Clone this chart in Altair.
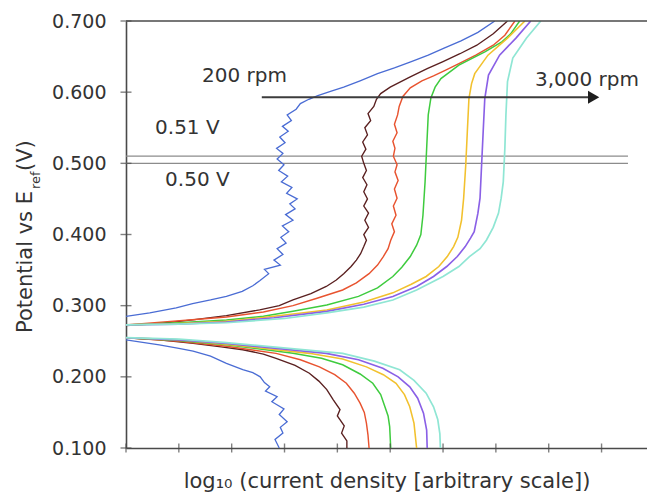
import altair as alt
import pandas as pd

FONT = "DejaVu Sans"
INK = "#333333"
AXIS_INK = "#4a4a4a"

# axis layout (x is in arbitrary log units, y in volts)
X_MAX = 9.86
X_TICKS = [0, 1, 2, 3, 4, 5, 6, 7, 8, 9]
Y_TICKS = [0.1, 0.2, 0.3, 0.4, 0.5, 0.6, 0.7]

CURVES = ["200 rpm", "rate 2", "rate 3", "rate 4", "rate 5", "rate 6", "3,000 rpm"]
COLORS = ["#4a6cd4", "#5a2020", "#e8532f", "#3ecb3e", "#f2c12e", "#8a60e6", "#8fe6d4"]
WIDTHS = [1.3, 1.7, 1.5, 1.2, 1.2, 1.2, 1.1]

# anodic (upper) and cathodic (lower) branches, (log current, potential)
BLUE_UP = [(0.00, 0.285), (0.45, 0.290), (0.95, 0.297), (1.26, 0.303), (1.60, 0.308), (1.90, 0.313),
           (2.20, 0.320), (2.40, 0.328), (2.53, 0.335), (2.70, 0.345), (2.62, 0.351), (2.92, 0.357),
           (2.80, 0.364), (2.97, 0.372), (2.86, 0.380), (3.03, 0.388), (2.93, 0.396), (3.08, 0.404),
           (2.96, 0.412), (3.16, 0.420), (3.02, 0.428), (3.20, 0.436), (3.10, 0.443), (3.24, 0.450),
           (3.04, 0.458), (3.14, 0.466), (2.94, 0.474), (3.06, 0.482), (2.89, 0.490), (2.99, 0.498),
           (2.86, 0.506), (2.97, 0.514), (2.85, 0.521), (3.01, 0.529), (2.91, 0.537), (3.07, 0.545),
           (2.96, 0.552), (3.13, 0.560), (3.05, 0.568), (3.22, 0.576), (3.30, 0.584), (3.46, 0.590),
           (3.63, 0.595), (3.87, 0.601), (4.12, 0.607), (4.43, 0.616), (4.76, 0.626), (5.08, 0.634),
           (5.40, 0.643), (5.72, 0.652), (6.02, 0.662), (6.34, 0.672), (6.66, 0.684), (6.98, 0.700)]
BLUE_DN = [(0.00, 0.252), (0.63, 0.245), (1.00, 0.240), (1.27, 0.236), (1.60, 0.229), (1.90, 0.219),
           (2.21, 0.210), (2.40, 0.206), (2.54, 0.200), (2.62, 0.192), (2.72, 0.186), (2.64, 0.180),
           (2.86, 0.172), (2.76, 0.165), (2.99, 0.155), (2.90, 0.147), (3.05, 0.137), (2.92, 0.129),
           (2.97, 0.121), (2.82, 0.112), (2.90, 0.100)]

BROWN_UP = [(0.00, 0.272), (0.63, 0.275), (1.26, 0.280), (1.90, 0.286), (2.53, 0.294), (2.90, 0.300),
            (3.16, 0.308), (3.50, 0.317), (3.79, 0.327), (3.98, 0.336), (4.12, 0.345), (4.26, 0.355),
            (4.36, 0.364), (4.44, 0.373), (4.50, 0.383), (4.55, 0.392), (4.50, 0.400), (4.59, 0.410),
            (4.52, 0.420), (4.59, 0.430), (4.50, 0.440), (4.57, 0.450), (4.50, 0.460), (4.56, 0.470),
            (4.48, 0.480), (4.55, 0.490), (4.50, 0.500), (4.46, 0.510), (4.54, 0.520), (4.48, 0.530),
            (4.57, 0.540), (4.52, 0.550), (4.63, 0.560), (4.58, 0.570), (4.69, 0.580), (4.74, 0.590),
            (4.82, 0.598), (5.00, 0.607), (5.37, 0.621), (5.70, 0.633), (6.00, 0.643), (6.32, 0.654),
            (6.64, 0.666), (6.95, 0.682), (7.22, 0.700)]
BROWN_DN = [(0.00, 0.255), (0.63, 0.252), (1.27, 0.247), (1.80, 0.242), (2.21, 0.238), (2.60, 0.232),
            (2.84, 0.226), (3.20, 0.216), (3.47, 0.205), (3.65, 0.194), (3.80, 0.182), (3.92, 0.168),
            (4.05, 0.154), (4.00, 0.145), (4.13, 0.131), (4.08, 0.121), (4.18, 0.110), (4.18, 0.100)]

RED_UP = [(0.00, 0.273), (0.90, 0.278), (1.90, 0.284), (2.60, 0.291), (3.16, 0.300), (3.60, 0.310),
          (4.10, 0.322), (4.36, 0.332), (4.60, 0.345), (4.76, 0.357), (4.87, 0.369), (4.96, 0.380),
          (5.01, 0.392), (5.08, 0.404), (5.03, 0.415), (5.11, 0.427), (5.06, 0.440), (5.13, 0.451),
          (5.08, 0.464), (5.15, 0.476), (5.09, 0.488), (5.13, 0.498), (5.06, 0.510), (5.09, 0.521),
          (5.05, 0.531), (5.13, 0.543), (5.08, 0.555), (5.14, 0.568), (5.17, 0.580), (5.24, 0.594),
          (5.38, 0.606), (5.60, 0.616), (5.82, 0.623), (6.05, 0.631), (6.30, 0.640), (6.62, 0.652),
          (6.95, 0.666), (7.17, 0.680), (7.36, 0.700)]
RED_DN = [(0.00, 0.255), (1.00, 0.250), (1.90, 0.243), (2.84, 0.233), (3.30, 0.224), (3.66, 0.214),
          (3.95, 0.203), (4.17, 0.191), (4.32, 0.177), (4.43, 0.163), (4.51, 0.150), (4.55, 0.135),
          (4.58, 0.118), (4.60, 0.100)]

GREEN_UP = [(0.00, 0.273), (1.00, 0.276), (1.90, 0.280), (2.60, 0.285), (3.16, 0.292), (3.80, 0.301),
            (4.40, 0.313), (4.76, 0.325), (5.05, 0.341), (5.22, 0.354), (5.38, 0.369), (5.50, 0.385),
            (5.58, 0.400), (5.62, 0.427), (5.66, 0.474), (5.69, 0.521), (5.72, 0.568), (5.77, 0.592),
            (5.85, 0.607), (5.96, 0.619), (6.30, 0.638), (6.80, 0.657), (7.12, 0.671), (7.28, 0.682),
            (7.45, 0.700)]
GREEN_DN = [(0.00, 0.255), (1.00, 0.251), (1.90, 0.245), (3.16, 0.233), (3.70, 0.226), (4.10, 0.217),
            (4.43, 0.204), (4.67, 0.191), (4.82, 0.175), (4.90, 0.158), (4.96, 0.145), (4.99, 0.130),
            (5.01, 0.100)]

YELLOW_UP = [(0.00, 0.273), (1.00, 0.275), (1.90, 0.278), (2.80, 0.285), (3.80, 0.294), (4.50, 0.305),
             (5.05, 0.318), (5.40, 0.330), (5.68, 0.341), (5.92, 0.355), (6.08, 0.369), (6.20, 0.383),
             (6.28, 0.396), (6.35, 0.420), (6.39, 0.451), (6.43, 0.498), (6.46, 0.545), (6.49, 0.591),
             (6.54, 0.612), (6.60, 0.626), (6.85, 0.652), (7.22, 0.676), (7.55, 0.700)]
YELLOW_DN = [(0.00, 0.255), (1.00, 0.252), (1.90, 0.246), (3.47, 0.233), (4.10, 0.225), (4.55, 0.214),
             (4.87, 0.203), (5.11, 0.191), (5.27, 0.175), (5.37, 0.158), (5.45, 0.135), (5.50, 0.100)]

PURPLE_UP = [(0.00, 0.273), (1.00, 0.274), (1.90, 0.277), (2.80, 0.283), (3.80, 0.292), (4.50, 0.302),
             (5.05, 0.313), (5.50, 0.327), (5.82, 0.341), (6.07, 0.355), (6.27, 0.369), (6.42, 0.383),
             (6.52, 0.395), (6.59, 0.404), (6.66, 0.430), (6.70, 0.451), (6.73, 0.498), (6.76, 0.545),
             (6.79, 0.591), (6.86, 0.624), (7.07, 0.652), (7.38, 0.676), (7.66, 0.700)]
PURPLE_DN = [(0.00, 0.255), (1.00, 0.252), (1.90, 0.247), (3.79, 0.233), (4.40, 0.224), (4.86, 0.212),
             (5.15, 0.200), (5.37, 0.186), (5.52, 0.170), (5.63, 0.149), (5.69, 0.125), (5.70, 0.100)]

CYAN_UP = [(0.00, 0.273), (1.00, 0.274), (1.90, 0.276), (3.00, 0.282), (3.80, 0.290), (4.50, 0.298),
           (5.05, 0.308), (5.50, 0.322), (6.00, 0.341), (6.30, 0.355), (6.50, 0.369), (6.70, 0.380),
           (6.82, 0.392), (6.95, 0.410), (7.05, 0.430), (7.10, 0.451), (7.14, 0.474), (7.17, 0.521),
           (7.19, 0.568), (7.22, 0.615), (7.32, 0.648), (7.58, 0.676), (7.85, 0.700)]
CYAN_DN = [(0.00, 0.255), (1.00, 0.253), (1.90, 0.248), (4.10, 0.233), (4.70, 0.222), (5.18, 0.210),
           (5.45, 0.195), (5.68, 0.177), (5.82, 0.158), (5.90, 0.140), (5.94, 0.120), (5.95, 0.100)]

BRANCHES = [
    (CURVES[0], BLUE_UP, BLUE_DN),
    (CURVES[1], BROWN_UP, BROWN_DN),
    (CURVES[2], RED_UP, RED_DN),
    (CURVES[3], GREEN_UP, GREEN_DN),
    (CURVES[4], YELLOW_UP, YELLOW_DN),
    (CURVES[5], PURPLE_UP, PURPLE_DN),
    (CURVES[6], CYAN_UP, CYAN_DN),
]

# reference potentials and annotations
REF_POTENTIALS = [0.50, 0.51]
REF_X_END = 9.5
ARROW_X = [2.57, 8.85]
ARROW_Y = 0.593
NOTE_TEXT = ["200 rpm", "3,000 rpm", "0.51 V", "0.50 V"]
NOTE_X = [1.44, 7.74, 0.55, 0.74]
NOTE_Y = [0.623, 0.617, 0.550, 0.477]

rows = []
for name, up, dn in BRANCHES:
    for branch, pts in (("anodic", up), ("cathodic", dn)):
        for i, (x, y) in enumerate(pts):
            rows.append({"curve": name, "path": f"{name} {branch}", "i": i, "x": x, "y": y})
curves_df = pd.DataFrame(rows)

x_scale = alt.Scale(domain=[0, X_MAX], nice=False, zero=False)
y_scale = alt.Scale(domain=[0.1, 0.7], nice=False, zero=False)

x_axis = alt.Axis(
    title="log\u2081\u2080 (current density [arbitrary scale])",
    labels=False, ticks=False, grid=False,
    domainColor=AXIS_INK, domainWidth=1.6,
    titleFont=FONT, titleFontSize=21, titleFontWeight="normal", titleColor=INK,
    titleY=39, titleBaseline="alphabetic",
)
y_axis = alt.Axis(
    title=None, values=Y_TICKS, format=".3f", ticks=False, grid=False,
    labelPadding=20, labelFont=FONT, labelFontSize=19, labelColor=INK,
    domainColor=AXIS_INK, domainWidth=1.6,
)


def X(field):
    return alt.X(field, type="quantitative", scale=x_scale, axis=x_axis)


def Y(field):
    return alt.Y(field, type="quantitative", scale=y_scale, axis=y_axis)


lines = alt.Chart(curves_df).mark_line(clip=True).encode(
    x=X("x"), y=Y("y"),
    color=alt.Color("curve:N", scale=alt.Scale(domain=CURVES, range=COLORS), legend=None),
    strokeWidth=alt.StrokeWidth("curve:N", scale=alt.Scale(domain=CURVES, range=WIDTHS), legend=None),
    detail="path:N",
    order="i:Q",
)

top_df = pd.DataFrame({"x0": [0], "x1": [X_MAX], "y": [0.7]})
top_line = alt.Chart(top_df).mark_rule(color=AXIS_INK, strokeWidth=1.6).encode(
    x=X("x0"), x2="x1", y=Y("y"))

ref_df = pd.DataFrame({"y": REF_POTENTIALS, "x0": [0] * len(REF_POTENTIALS),
                       "x1": [REF_X_END] * len(REF_POTENTIALS)})
ref_lines = alt.Chart(ref_df).mark_rule(color="#8c8c8c", strokeWidth=1.2).encode(
    x=X("x0"), x2="x1", y=Y("y"))

arrow_df = pd.DataFrame({"x0": [ARROW_X[0]], "x1": [ARROW_X[1]], "y": [ARROW_Y]})
arrow_shaft = alt.Chart(arrow_df).mark_rule(color="#3c3c3c", strokeWidth=2).encode(
    x=X("x0"), x2="x1", y=Y("y"))
arrow_head = alt.Chart(arrow_df).mark_point(
    shape="triangle-right", filled=True, size=170, color="#1e1e1e", opacity=1
).encode(x=X("x1"), y=Y("y"))

notes_df = pd.DataFrame({"t": NOTE_TEXT, "x": NOTE_X, "y": NOTE_Y})
notes = alt.Chart(notes_df).mark_text(
    align="left", baseline="middle", font=FONT, fontSize=20, color=INK
).encode(x=X("x"), y=Y("y"), text="t:N")

xt_df = pd.DataFrame({"x": X_TICKS, "y": [0.1] * len(X_TICKS)})
x_ticks = alt.Chart(xt_df).mark_tick(orient="vertical", size=9, thickness=1.4, color=AXIS_INK).encode(
    x=X("x"), y=Y("y"))
yt_df = pd.DataFrame({"x": [0] * len(Y_TICKS), "y": Y_TICKS})
y_ticks = alt.Chart(yt_df).mark_tick(orient="horizontal", size=11, thickness=1.4, color=AXIS_INK).encode(
    x=X("x"), y=Y("y"))

# vertical axis title with a subscripted reference electrode
title_parts = [("Potential vs E", 21, -94, 312), ("ref", 13, -86, 168), (" (V)", 21, -94, 150)]
title_layers = []
for text, size, px, py in title_parts:
    title_layers.append(
        alt.Chart(pd.DataFrame({"t": [text]})).mark_text(
            angle=270, align="left", baseline="alphabetic", font=FONT, fontSize=size, color=INK
        ).encode(x=alt.value(px), y=alt.value(py), text="t:N")
    )

chart = alt.layer(
    ref_lines, lines, top_line, arrow_shaft, arrow_head, notes, x_ticks, y_ticks, *title_layers
).properties(
    width=521, height=427,
    padding={"left": 126, "top": 21, "right": 0, "bottom": 44},
    autosize=alt.AutoSizeParams(type="none"),
    background="white",
).configure_view(strokeWidth=0)

chart.save("out.html", embed_options={"renderer": "svg", "actions": False})
